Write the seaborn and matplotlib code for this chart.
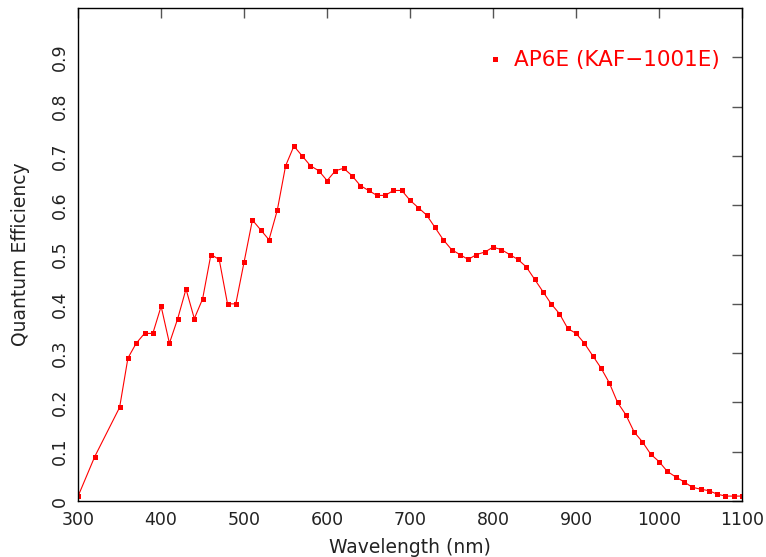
import matplotlib.pyplot as plt
from matplotlib.lines import Line2D
import numpy as np
import pandas as pd
import seaborn as sns

# Data
wavelength = [300, 320, 350, 360, 370, 380, 390, 400, 410, 420, 430, 440, 450, 460, 470,
              480, 490, 500, 510, 520, 530, 540, 550, 560, 570, 580, 590, 600, 610, 620,
              630, 640, 650, 660, 670, 680, 690, 700, 710, 720, 730, 740, 750, 760, 770,
              780, 790, 800, 810, 820, 830, 840, 850, 860, 870, 880, 890, 900, 910, 920,
              930, 940, 950, 960, 970, 980, 990, 1000, 1010, 1020, 1030, 1040, 1050,
              1060, 1070, 1080, 1090, 1100]
qe = [0.01, 0.09, 0.19, 0.29, 0.32, 0.34, 0.34, 0.395, 0.32, 0.37, 0.43, 0.37, 0.41, 0.50, 0.49,
      0.40, 0.40, 0.485, 0.57, 0.55, 0.53, 0.59, 0.68, 0.72, 0.70, 0.68, 0.67, 0.65, 0.67, 0.675,
      0.66, 0.64, 0.63, 0.62, 0.62, 0.63, 0.63, 0.61, 0.595, 0.58, 0.555, 0.53, 0.51, 0.50, 0.49,
      0.50, 0.505, 0.515, 0.51, 0.50, 0.49, 0.475, 0.45, 0.425, 0.40, 0.38, 0.35, 0.34, 0.32, 0.295,
      0.27, 0.24, 0.20, 0.175, 0.14, 0.12, 0.095, 0.08, 0.06, 0.049, 0.039, 0.028, 0.024,
      0.021, 0.014, 0.01, 0.01, 0.01]
series_name = 'AP6E (KAF\u22121001E)'
x_ticks = [300, 400, 500, 600, 700, 800, 900, 1000, 1100]
y_ticks = [0, 0.1, 0.2, 0.3, 0.4, 0.5, 0.6, 0.7, 0.8, 0.9]

df = pd.DataFrame({'Wavelength': wavelength, 'QE': qe})

sns.set_style('white')
plt.rcParams['font.family'] = ['DejaVu Sans']

fig = plt.figure(figsize=(7.66, 5.57), dpi=100)
ax = fig.add_axes([0.102, 0.1005, 0.8667, 0.885])

sns.lineplot(data=df, x='Wavelength', y='QE', ax=ax, color='red', linewidth=0.8,
             marker='s', markersize=3.6, markeredgewidth=0, markerfacecolor='red')

ax.set_xlim(300, 1100)
ax.set_ylim(0, 1.0)
ax.set_xticks(x_ticks)
ax.set_yticks(y_ticks)
ax.set_yticklabels(['0' if v == 0 else f'{v:g}' for v in y_ticks], rotation=90, va='center')
ax.tick_params(direction='in', length=7, width=1, color='#555555', labelsize=12.5,
               labelcolor='#222222', top=True, right=True, pad=7)
for s in ax.spines.values():
    s.set_color('black')
    s.set_linewidth(1)

ax.set_xlabel('Wavelength (nm)', fontsize=13.5, color='#222222', labelpad=7)
ax.set_ylabel('Quantum Efficiency', fontsize=13.5, color='#222222', labelpad=15)

handle = Line2D([], [], color='red', marker='s', linestyle='none', markersize=3.6,
                markeredgewidth=0)
ax.legend([handle], [series_name], loc='center right', frameon=False, fontsize=15.5,
          labelcolor='red', handletextpad=0.4, handlelength=1, borderpad=0,
          borderaxespad=0, bbox_to_anchor=(0.967, 0.894))

plt.savefig('out.png', dpi=100)
